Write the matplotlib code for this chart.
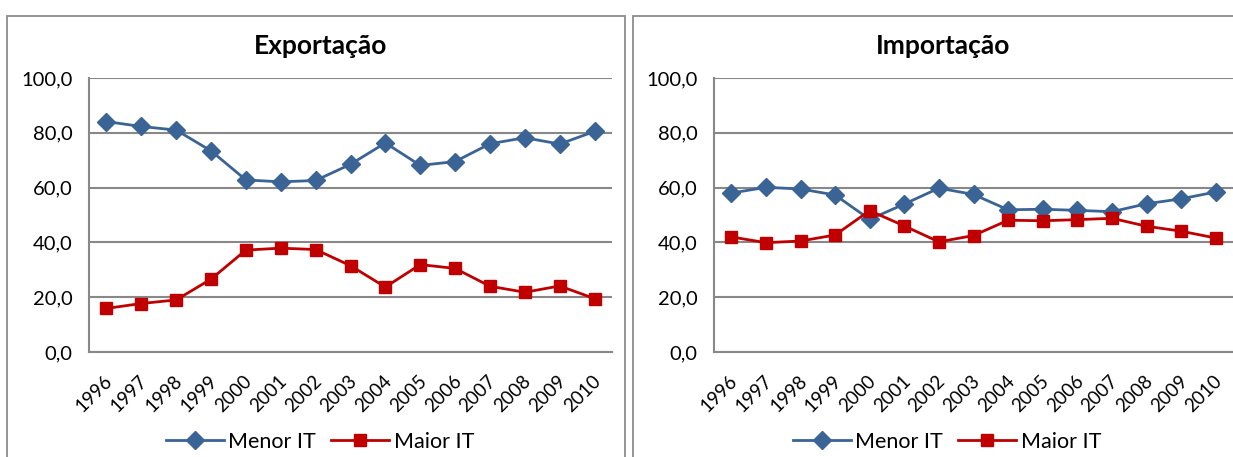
import matplotlib
matplotlib.use("Agg")
import matplotlib.pyplot as plt
import matplotlib.transforms as mtransforms
from matplotlib.patches import Rectangle
from matplotlib.lines import Line2D

plt.rcParams['font.family'] = ['Lato', 'DejaVu Sans']

years = ['1996', '1997', '1998', '1999', '2000', '2001', '2002', '2003',
         '2004', '2005', '2006', '2007', '2008', '2009', '2010']

exp_menor = [84.1, 82.3, 81.0, 73.4, 62.8, 62.1, 62.6, 68.5, 76.3, 68.1, 69.5, 76.0, 78.2, 75.9, 80.5]
exp_maior = [15.9, 17.7, 19.0, 26.6, 37.2, 37.9, 37.4, 31.5, 23.7, 31.9, 30.5, 24.0, 21.8, 24.1, 19.5]

imp_menor = [58.0, 60.1, 59.5, 57.3, 48.4, 54.0, 59.8, 57.5, 51.9, 52.1, 51.7, 51.2, 54.1, 55.9, 58.4]
imp_maior = [42.0, 39.9, 40.5, 42.7, 51.6, 46.0, 40.2, 42.5, 48.1, 47.9, 48.3, 48.8, 45.9, 44.1, 41.6]

titles = ['Exportação', 'Importação']
series_names = ['Menor IT', 'Maior IT']
yticks = [0, 20, 40, 60, 80, 100]

W, H = 1233, 457
fig = plt.figure(figsize=(W / 100, H / 100), dpi=100)

BLUE = '#3A6496'
RED = '#C00000'
GRID = '#888888'

# panel borders
for (x0, x1) in [(7, 625), (633, 1245)]:
    fig.patches.append(Rectangle((x0 / W, -0.1), (x1 - x0) / W, 1.1 - 16 / H,
                                 transform=fig.transFigure, fill=False,
                                 edgecolor='#8c8c8c', lw=1.3, clip_on=False))

panels = [
    (89, 612, exp_menor, exp_maior, 321, 320),
    (714, 1233, imp_menor, imp_maior, 943, 947),
]

top_px, bot_px = 78, 352
offset = mtransforms.ScaledTranslation(-12 / 100, -20 / 100, fig.dpi_scale_trans)
for i, (lx, rx, menor, maior, tx, legx) in enumerate(panels):
    ax = fig.add_axes([lx / W, 1 - bot_px / H, (rx - lx) / W, (bot_px - top_px) / H])
    x = list(range(len(years)))
    ax.plot(x, menor, color=BLUE, lw=2.0, marker='D', ms=9.5, mfc=BLUE, mec=BLUE,
            label=series_names[0], zorder=3)
    ax.plot(x, maior, color=RED, lw=2.0, marker='s', ms=9, mfc=RED, mec=RED,
            label=series_names[1], zorder=3)
    ax.set_xlim(-0.5, len(years) - 0.5)
    ax.set_ylim(0, 100)
    ax.set_yticks(yticks)
    ax.set_yticklabels([f'{v:.1f}'.replace('.', ',') for v in yticks], fontsize=14.5)
    ax.set_xticks(x)
    ax.set_xticklabels([])
    trans = ax.get_xaxis_transform() + offset
    for xi, yr in zip(x, years):
        ax.text(xi, 0, yr, transform=trans, rotation=45, ha='center', va='top',
                fontsize=13.5, clip_on=False)
    ax.tick_params(axis='both', length=0, colors='black')
    ax.tick_params(axis='y', pad=12)
    ax.grid(axis='y', color=GRID, lw=1.5, zorder=0)
    ax.set_axisbelow(True)
    for s in ['top', 'right']:
        ax.spines[s].set_visible(False)
    for s in ['left', 'bottom']:
        ax.spines[s].set_color(GRID)
        ax.spines[s].set_linewidth(1.5)
    fig.text(tx / W, 1 - 46 / H, titles[i], fontsize=19, fontweight='bold',
             ha='center', va='center')
    handles = [
        Line2D([], [], color=BLUE, lw=2.0, marker='D', ms=9.5),
        Line2D([], [], color=RED, lw=2.0, marker='s', ms=9),
    ]
    fig.legend(handles, series_names, loc='center', ncol=2, frameon=False,
               bbox_to_anchor=(legx / W, 1 - 442 / H), fontsize=15.5,
               handlelength=2.7, handletextpad=0.2, columnspacing=0.7,
               borderaxespad=0, borderpad=0)

fig.savefig('out.png', dpi=100)
